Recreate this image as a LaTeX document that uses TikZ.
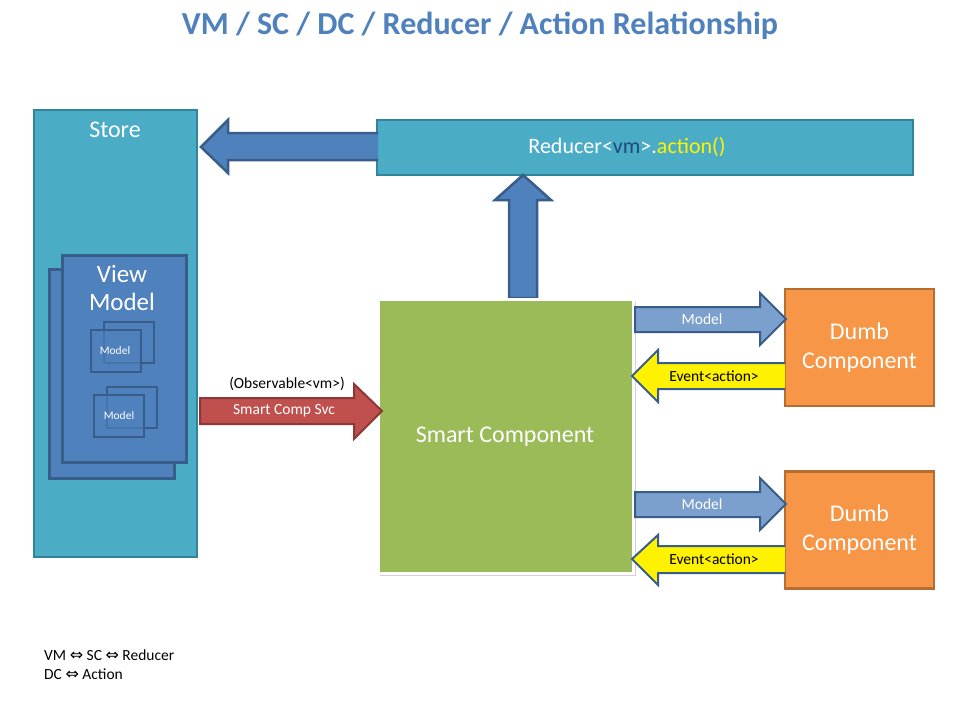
\documentclass[tikz,border=0pt]{standalone}
\usepackage{fontspec}
\setmainfont{Carlito}
\newfontfamily\symfont{DejaVu Sans}
\usetikzlibrary{calc}
\definecolor{storefill}{HTML}{4BACC6}
\definecolor{storeline}{HTML}{31849B}
\definecolor{bluefill}{HTML}{4F81BD}
\definecolor{blueline}{HTML}{385D8A}
\definecolor{lightblue}{HTML}{7BA0CD}
\definecolor{greenfill}{HTML}{9BBB59}
\definecolor{redfill}{HTML}{C0504D}
\definecolor{redline}{HTML}{8C3836}
\definecolor{orangefill}{HTML}{F79646}
\definecolor{orangeline}{HTML}{B66D31}
\definecolor{darkvm}{HTML}{1F497D}
\tikzset{
  box/.style={draw, line width=2.5pt, inner sep=0pt},
  storebox/.style={box, fill=storefill, draw=storeline},
  vmbox/.style={box, fill=bluefill, draw=blueline, line width=3pt},
  smallbox/.style={draw=blueline, line width=2.5pt},
  dumbbox/.style={box, fill=orangefill, draw=orangeline, text=white, font=\fontsize{24}{29}\selectfont, align=center},
  bigarrow/.style={fill=bluefill, draw=blueline, line width=2.5pt, line join=miter},
  modelarrow/.style={fill=lightblue, draw=blueline, line width=2pt, line join=miter},
  eventarrow/.style={fill=yellow, draw=blueline, line width=2pt, line join=miter},
  redarrow/.style={fill=redfill, draw=redline, line width=2pt, line join=miter},
  lbl/.style={font=\fontsize{15.5}{18}\selectfont, inner sep=0pt},
}
\newcommand\dblarr{{\symfont\fontsize{16}{18}\selectfont ⇔}}
\begin{document}
\begin{tikzpicture}[x=1pt, y=-1pt]
\useasboundingbox (0,0) rectangle (960,720);
\fill[white] (0,0) rectangle (960,720);

% title
\node[font=\bfseries\fontsize{32}{38}\selectfont, text=bluefill] (title) at (480,26) {VM / SC / DC / Reducer / Action Relationship};

% store
\draw[storebox] (34,110) rectangle (197,557);
\node[text=white, font=\fontsize{24}{29}\selectfont] (store) at (115,130) {Store};

% view model
\draw[vmbox] (49,269) rectangle (174,478);
\draw[vmbox] (62,255) rectangle (186,462);
\node[text=white, font=\fontsize{25}{28}\selectfont, align=center, inner sep=0pt] (vm) at (122,288) {View\\Model};
% small models
\draw[smallbox] (104,322) rectangle (154,363);
\fill[bluefill, opacity=0.65] (91,330) rectangle (141,372);
\draw[smallbox] (91,330) rectangle (141,372);
\node[text=white, font=\fontsize{11.5}{13}\selectfont] (m1) at (115,351) {Model};
\draw[smallbox] (107,387) rectangle (157,428);
\fill[bluefill, opacity=0.65] (94,395) rectangle (144,437);
\draw[smallbox] (94,395) rectangle (144,437);
\node[text=white, font=\fontsize{11.5}{13}\selectfont] (m2) at (119,416) {Model};

% reducer
\draw[storebox] (377,120) rectangle (913,175);
\node[font=\fontsize{22}{26}\selectfont, text=white] (reducer) at (627,147) {Reducer<\textcolor{darkvm}{vm}>.\textcolor{yellow}{action()}};

% big left arrow
\draw[bigarrow] (378,133) -- (228,133) -- (228,120) -- (201,147) -- (228,173) -- (228,160) -- (378,160);
% up arrow
\draw[bigarrow] (509,298) -- (509,200) -- (495,200) -- (523,175) -- (551,200) -- (537,200) -- (537,298) -- cycle;

% smart component
\fill[black!18] (380,302) rectangle (636,576);
\draw[fill=greenfill, draw=white, line width=3pt] (378,299) rectangle (633,573);
\node[text=white, font=\fontsize{24}{29}\selectfont] (sc) at (505,437) {Smart Component};

% red arrow
\draw[redarrow] (200,398) -- (354,398) -- (354,384) -- (382,411) -- (354,439) -- (354,424) -- (200,424) -- cycle;
\node[lbl, text=white] (svc) at (284,411) {Smart Comp Svc};
\node[lbl] (obs) at (287,384) {(Observable<vm>)};

% dumb components
\node[dumbbox, minimum width=149pt, minimum height=117pt] (d1) at (859.5,347.5) {Dumb\\Component};
\node[dumbbox, minimum width=149pt, minimum height=117pt] (d2) at (859.5,530) {Dumb\\Component};

% model arrows
\draw[modelarrow] (635,307) -- (760,307) -- (760,293) -- (786,319) -- (760,345) -- (760,332) -- (635,332) -- cycle;
\node[lbl, text=white] (ma1) at (702,319) {Model};
\draw[modelarrow] (635,492) -- (760,492) -- (760,478) -- (786,504) -- (760,530) -- (760,517) -- (635,517) -- cycle;
\node[lbl, text=white] (ma2) at (702,504) {Model};

% event arrows
\draw[eventarrow] (785,363) -- (658,363) -- (658,350) -- (632,376) -- (658,402) -- (658,389) -- (785,389);
\node[lbl] (ev1) at (714,376) {Event<action>};
\draw[eventarrow] (785,546) -- (658,546) -- (658,535) -- (632,559) -- (658,585) -- (658,573) -- (785,573);
\node[lbl] (ev2) at (714,559) {Event<action>};

% legend
\node[lbl, anchor=west] (leg1) at (44,655) {VM \dblarr{} SC \dblarr{} Reducer};
\node[lbl, anchor=west] (leg2) at (44,674) {DC \dblarr{} Action};
\end{tikzpicture}
\end{document}
